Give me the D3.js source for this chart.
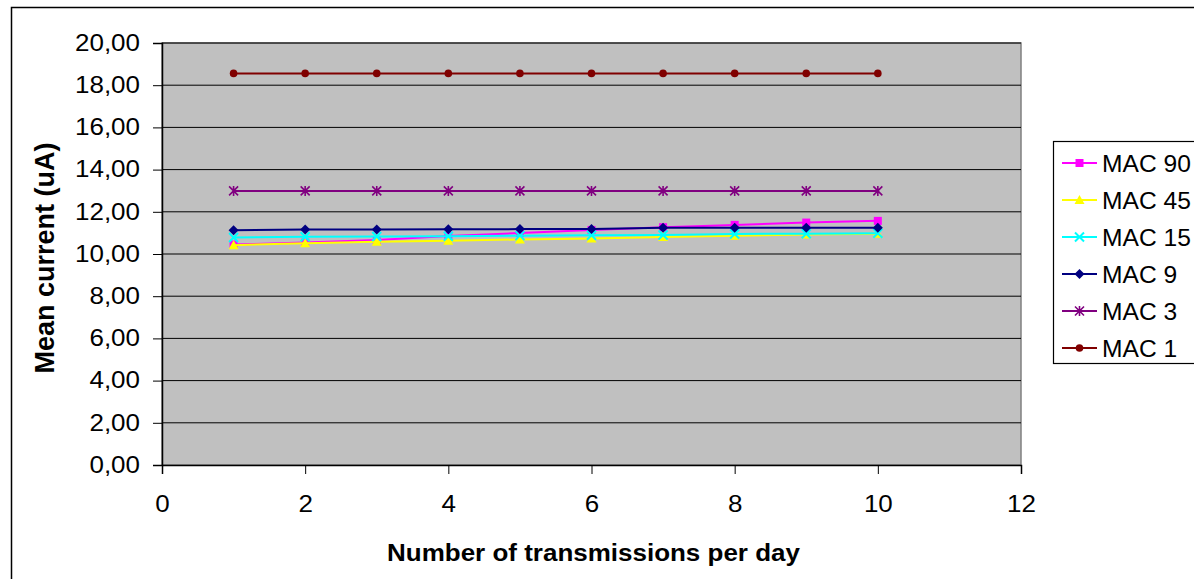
<!DOCTYPE html>
<html><head><meta charset="utf-8">
<script src="https://cdn.jsdelivr.net/npm/d3@7"></script>
<style>body{margin:0;background:#fff;}svg{display:block;font-family:"Liberation Sans",Arial,sans-serif;}</style>
</head><body>
<svg id="chart" width="1194" height="579"></svg>
<script>
const xValues = [1,2,3,4,5,6,7,8,9,10];
const seriesNames = ["MAC 90","MAC 45","MAC 15","MAC 9","MAC 3","MAC 1"];
const mac90 = [10.45,10.54,10.66,10.85,10.99,11.14,11.27,11.38,11.49,11.57];
const mac45 = [10.42,10.51,10.58,10.63,10.69,10.74,10.81,10.86,10.92,10.96];
const mac15 = [10.78,10.82,10.83,10.84,10.87,10.89,10.90,10.95,10.96,10.98];
const mac9  = [11.13,11.16,11.16,11.17,11.18,11.18,11.24,11.25,11.25,11.25];
const mac3  = [12.99,12.99,12.99,12.99,12.99,12.99,12.99,12.99,12.99,12.99];
const mac1  = [18.56,18.56,18.56,18.56,18.56,18.56,18.56,18.56,18.56,18.56];
const yTicks = [0,2,4,6,8,10,12,14,16,18,20];
const xTicks = [0,2,4,6,8,10,12];
const colors = ["#FF00FF","#FFFF00","#00FFFF","#000080","#800080","#800000"];
const markers = ["square","triangle","x","diamond","asterisk","circle"];
const allValues = [mac90,mac45,mac15,mac9,mac3,mac1];

const SX = 1.13; // horizontal stretch of text in the reference
const svg = d3.select("#chart");
const plot = {l:162, r:1021, t:43, b:465};
const x = d3.scaleLinear().domain([0,12]).range([plot.l, plot.r]);
const y = d3.scaleLinear().domain([0,20]).range([plot.b, plot.t]);

// outer chart border
svg.append("rect").attr("x",11.5).attr("y",7.5).attr("width",1300).attr("height",700)
  .attr("fill","#fff").attr("stroke","#000").attr("stroke-width",1.5);

// plot area
svg.append("rect").attr("x",plot.l).attr("y",plot.t).attr("width",plot.r-plot.l).attr("height",plot.b-plot.t)
  .attr("fill","#C0C0C0").attr("stroke","#808080").attr("stroke-width",1.5);

// gridlines
svg.append("g").selectAll("line").data(yTicks.filter(d=>d>0)).join("line")
  .attr("x1",plot.l).attr("x2",plot.r).attr("y1",d=>y(d)).attr("y2",d=>y(d))
  .attr("stroke","#000").attr("stroke-width",1);

// axes
const yAxis = d3.axisLeft(y).tickValues(yTicks).tickSize(9).tickPadding(12)
  .tickFormat(d=>d3.format(".2f")(d).replace(".",","));
const gy = svg.append("g").attr("transform",`translate(${plot.l},0)`).call(yAxis);
const xAxis = d3.axisBottom(x).tickValues(xTicks).tickSize(9).tickPadding(22).tickFormat(d3.format("d"));
const gx = svg.append("g").attr("transform",`translate(0,${plot.b})`).call(xAxis);
[gy,gx].forEach(g=>{
  g.select(".domain").attr("stroke","#000").attr("stroke-width",1.5);
  g.selectAll(".tick line").attr("stroke","#000").attr("stroke-width",1);
  g.selectAll("text").attr("font-size",23).attr("fill","#000").attr("font-family","Liberation Sans, Arial, sans-serif")
    .attr("transform",`scale(${SX},1)`);
});
gy.selectAll("text").attr("x",-22/SX);

// axis titles
svg.append("text").attr("transform",`translate(${(plot.l+plot.r)/2+2},561) scale(${SX},1)`).attr("text-anchor","middle")
  .attr("font-weight","bold").attr("font-size",23).text("Number of transmissions per day");
svg.append("text").attr("transform",`translate(54,${(plot.t+plot.b)/2+4}) rotate(-90)`).attr("text-anchor","middle")
  .attr("font-weight","bold").attr("font-size",27).text("Mean current (uA)");

function drawMarker(g, type, color, cx, cy){
  const s = 4.5;
  if(type==="square") g.append("rect").attr("x",cx-4).attr("y",cy-4).attr("width",8).attr("height",8).attr("fill",color);
  else if(type==="triangle") g.append("path").attr("d",`M${cx},${cy-5}L${cx+5},${cy+4}L${cx-5},${cy+4}Z`).attr("fill",color);
  else if(type==="x") g.append("path").attr("d",`M${cx-s},${cy-s}L${cx+s},${cy+s}M${cx-s},${cy+s}L${cx+s},${cy-s}`).attr("stroke",color).attr("stroke-width",2);
  else if(type==="diamond") g.append("path").attr("d",`M${cx},${cy-5}L${cx+5},${cy}L${cx},${cy+5}L${cx-5},${cy}Z`).attr("fill",color);
  else if(type==="asterisk") g.append("path").attr("d",`M${cx-s},${cy-s}L${cx+s},${cy+s}M${cx-s},${cy+s}L${cx+s},${cy-s}M${cx},${cy-s-0.5}L${cx},${cy+s+0.5}`).attr("stroke",color).attr("stroke-width",1.6);
  else if(type==="circle") g.append("circle").attr("cx",cx).attr("cy",cy).attr("r",3.8).attr("fill",color);
}

const line = d3.line().x((d,i)=>x(xValues[i])).y(d=>y(d));
const order = [5,4,0,1,2,3];
order.forEach(si=>{
  const g = svg.append("g");
  g.append("path").attr("d",line(allValues[si])).attr("fill","none").attr("stroke",colors[si]).attr("stroke-width",2);
  allValues[si].forEach((v,i)=>drawMarker(g, markers[si], colors[si], x(xValues[i]), y(v)));
});

// legend
const lg = svg.append("g");
lg.append("rect").attr("x",1053.5).attr("y",141.5).attr("width",200).attr("height",222)
  .attr("fill","#fff").attr("stroke","#000").attr("stroke-width",1.2);
seriesNames.forEach((name,i)=>{
  const cy = 163 + i*37;
  lg.append("line").attr("x1",1062).attr("x2",1097).attr("y1",cy).attr("y2",cy).attr("stroke",colors[i]).attr("stroke-width",2);
  drawMarker(lg, markers[i], colors[i], 1079.5, cy);
  lg.append("text").attr("transform",`translate(1102,${cy+8.5}) scale(1.07,1)`).attr("font-size",23).attr("fill","#000").text(name);
});
</script>
</body></html>
